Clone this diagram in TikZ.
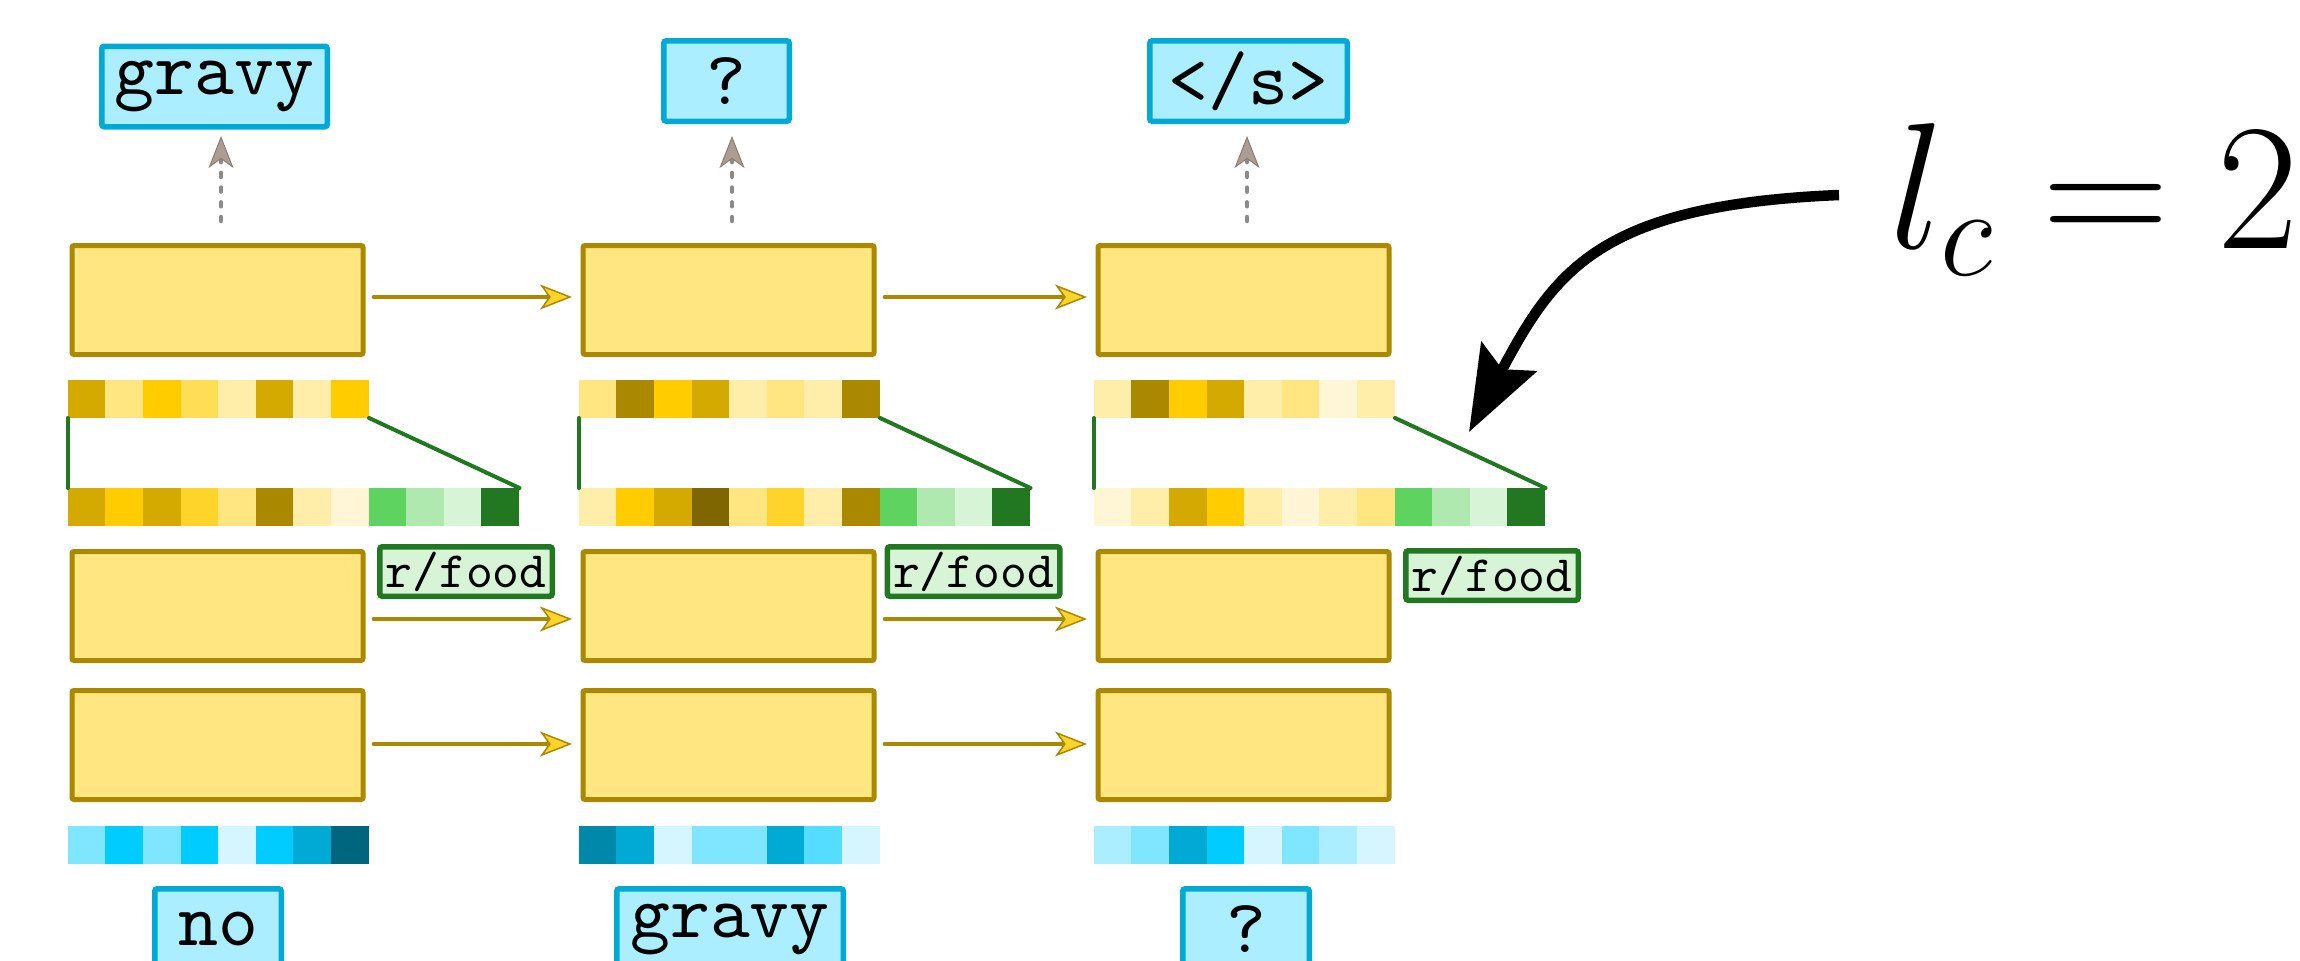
\documentclass[tikz,border=0pt]{standalone}
\usepackage{fix-cm}
\usepackage{graphicx}
\usetikzlibrary{arrows.meta}
\DeclareFontFamily{TU}{lmttten}{\hyphenchar\font=-1}
\DeclareFontShape{TU}{lmttten}{m}{n}{<-> "[lmmono10-regular]"}{}
\newcommand\ttten{\fontfamily{lmttten}\selectfont}
\definecolor{Y1}{HTML}{FFCC00}
\definecolor{Y2}{HTML}{D4AA00}
\definecolor{Y3}{HTML}{AA8800}
\definecolor{Y4}{HTML}{806600}
\definecolor{Y5}{HTML}{FFDD55}
\definecolor{Y6}{HTML}{FFE680}
\definecolor{Y7}{HTML}{FFEEAA}
\definecolor{Y8}{HTML}{FFF6D5}
\definecolor{YA}{HTML}{FFD42A}
\definecolor{G1}{HTML}{5FD35F}
\definecolor{G2}{HTML}{AFE9AF}
\definecolor{G3}{HTML}{D7F4D7}
\definecolor{G4}{HTML}{217821}
\definecolor{B1}{HTML}{80E5FF}
\definecolor{B2}{HTML}{00CCFF}
\definecolor{B3}{HTML}{D5F6FF}
\definecolor{B4}{HTML}{00AAD4}
\definecolor{B5}{HTML}{006680}
\definecolor{B6}{HTML}{0088AA}
\definecolor{B7}{HTML}{55DDFF}
\definecolor{B8}{HTML}{AAEEFF}
\definecolor{GrL}{HTML}{8A8A8A}
\definecolor{GrF}{HTML}{AC9D93}
\newcommand\mkcells[4]{%
  \foreach \cc [count=\ii] in {#4} {%
    \node[cellbox, fill=\cc] (#1\ii) at ({#2+(\ii-0.5)*37.6},#3) {};}}
\begin{document}
\begin{tikzpicture}[x=1pt,y=-1pt,
  ybox/.style={draw=Y3, fill=Y6, line width=5pt, minimum width=291pt,
    minimum height=109pt, inner sep=0pt, rounded corners=2pt},
  lbl/.style={draw=B4, fill=B8, line width=5.5pt, minimum height=80.5pt,
    inner sep=0pt, rounded corners=2.5pt, font=\fontsize{76}{80}\ttten},
  grn/.style={draw=G4, fill=G3, line width=5.5pt, minimum width=172.5pt,
    minimum height=49.5pt, inner sep=0pt, rounded corners=2.5pt,
    font=\fontsize{51}{55}\ttten},
  cellbox/.style={minimum width=38.1pt, minimum height=38pt, inner sep=0pt,
    outer sep=0pt, draw=none},
  gline/.style={draw=G4, line width=4pt, line cap=round},
  harrow/.style={draw=Y3, line width=4.7pt, line cap=round,
    -{Stealth[length=32pt, width=25pt, inset=9pt, fill=YA, color=Y3, line width=1.5pt]}},
  garrow/.style={draw=GrL, line width=4.5pt, line cap=round,
    dash pattern=on 4pt off 10.7pt,
    -{Stealth[length=32pt, width=25pt, inset=9pt, fill=GrF, color=GrF!80!black, line width=1pt, line cap=butt]}},
  bigarrow/.style={draw=black, line width=10.5pt,
    -{Stealth[length=85pt, width=62pt, inset=14pt]}}
]
\useasboundingbox (0,0) rectangle (2300,961);
\clip (0,0) rectangle (2300,961);

% yellow state boxes
\node[ybox] (t1) at (217.5,300) {};
\node[ybox] (t2) at (728.5,300) {};
\node[ybox] (t3) at (1243.5,300) {};
\node[ybox] (m1) at (217.5,606) {};
\node[ybox] (m2) at (728.5,606) {};
\node[ybox] (m3) at (1243.5,606) {};
\node[ybox] (b1) at (217.5,745) {};
\node[ybox] (b2) at (728.5,745) {};
\node[ybox] (b3) at (1243.5,745) {};

% cell rows
\mkcells{ua}{68}{399}{Y2,Y6,Y1,Y5,Y7,Y2,Y7,Y1}
\mkcells{la}{68}{507}{Y2,Y1,Y2,YA,Y6,Y3,Y7,Y8,G1,G2,G3,G4}
\mkcells{ub}{579}{399}{Y6,Y3,Y1,Y2,Y7,Y6,Y7,Y3}
\mkcells{lb}{579}{507}{Y7,Y1,Y2,Y4,Y6,YA,Y7,Y3,G1,G2,G3,G4}
\mkcells{uc}{1094}{399}{Y7,Y3,Y1,Y2,Y7,Y6,Y8,Y7}
\mkcells{lc}{1094}{507}{Y8,Y7,Y2,Y1,Y7,Y8,Y7,Y6,G1,G2,G3,G4}
\mkcells{ba}{68}{845}{B1,B2,B1,B2,B3,B2,B4,B5}
\mkcells{bb}{579}{845}{B6,B4,B3,B1,B1,B4,B7,B3}
\mkcells{bc}{1094}{845}{B8,B1,B4,B2,B3,B1,B8,B3}

% green connectors
\draw[gline] (ua1.south west) -- (la1.north west);
\draw[gline] (ua8.south east) -- (la12.north east);
\draw[gline] (ub1.south west) -- (lb1.north west);
\draw[gline] (ub8.south east) -- (lb12.north east);
\draw[gline] (uc1.south west) -- (lc1.north west);
\draw[gline] (uc8.south east) -- (lc12.north east);

% r/food labels
\node[grn] (r1) at (466,571.5) {r/food};
\node[grn] (r2) at (973.5,571.5) {r/food};
\node[grn] (r3) at (1492,575.5) {r/food};

% horizontal arrows
\draw[harrow] ([xshift=8.5pt,yshift=3pt]t1.east) -- ([xshift=-8.5pt,yshift=3pt]t2.west);
\draw[harrow] ([xshift=8.5pt,yshift=3pt]t2.east) -- ([xshift=-8.5pt,yshift=3pt]t3.west);
\draw[harrow] ([xshift=8.5pt,yshift=-13pt]m1.east) -- ([xshift=-8.5pt,yshift=-13pt]m2.west);
\draw[harrow] ([xshift=8.5pt,yshift=-13pt]m2.east) -- ([xshift=-8.5pt,yshift=-13pt]m3.west);
\draw[harrow] ([xshift=8.5pt,yshift=1pt]b1.east) -- ([xshift=-8.5pt,yshift=1pt]b2.west);
\draw[harrow] ([xshift=8.5pt,yshift=1pt]b2.east) -- ([xshift=-8.5pt,yshift=1pt]b3.west);

% output labels
\node[lbl, minimum width=225.5pt] (o1) at (214.5,86.5) {gravy};
\node[lbl, minimum width=125.5pt] (o2) at (726.5,81) {?};
\node[lbl, minimum width=197.5pt] (o3) at (1248.5,81) {</s>};

% input labels
\node[lbl, minimum width=126.5pt] (i1) at (218,929) {no};
\node[lbl, minimum width=226.5pt] (i2) at (730,929) {gravy};
\node[lbl, minimum width=126.5pt] (i3) at (1246,929) {?};

% dashed output arrows
\coordinate (d1a) at (221,221); \coordinate (d1b) at (221,136);
\coordinate (d2a) at (732,221); \coordinate (d2b) at (732,136);
\coordinate (d3a) at (1247,221); \coordinate (d3b) at (1247,136);
\draw[garrow] (d1a) -- (d1b);
\draw[garrow] (d2a) -- (d2b);
\draw[garrow] (d3a) -- (d3b);

% context length annotation
\node[anchor=base west, inner sep=0pt] (lcl) at (1889,248)
  {\scalebox{0.98}[1]{\fontsize{180}{200}\selectfont$l_c=2$}};
\coordinate (bs) at (1839,195);
\coordinate (be) at (1469,432);
\draw[bigarrow] (bs) .. controls (1600,205) and (1555,270) .. (be);
\end{tikzpicture}
\end{document}
